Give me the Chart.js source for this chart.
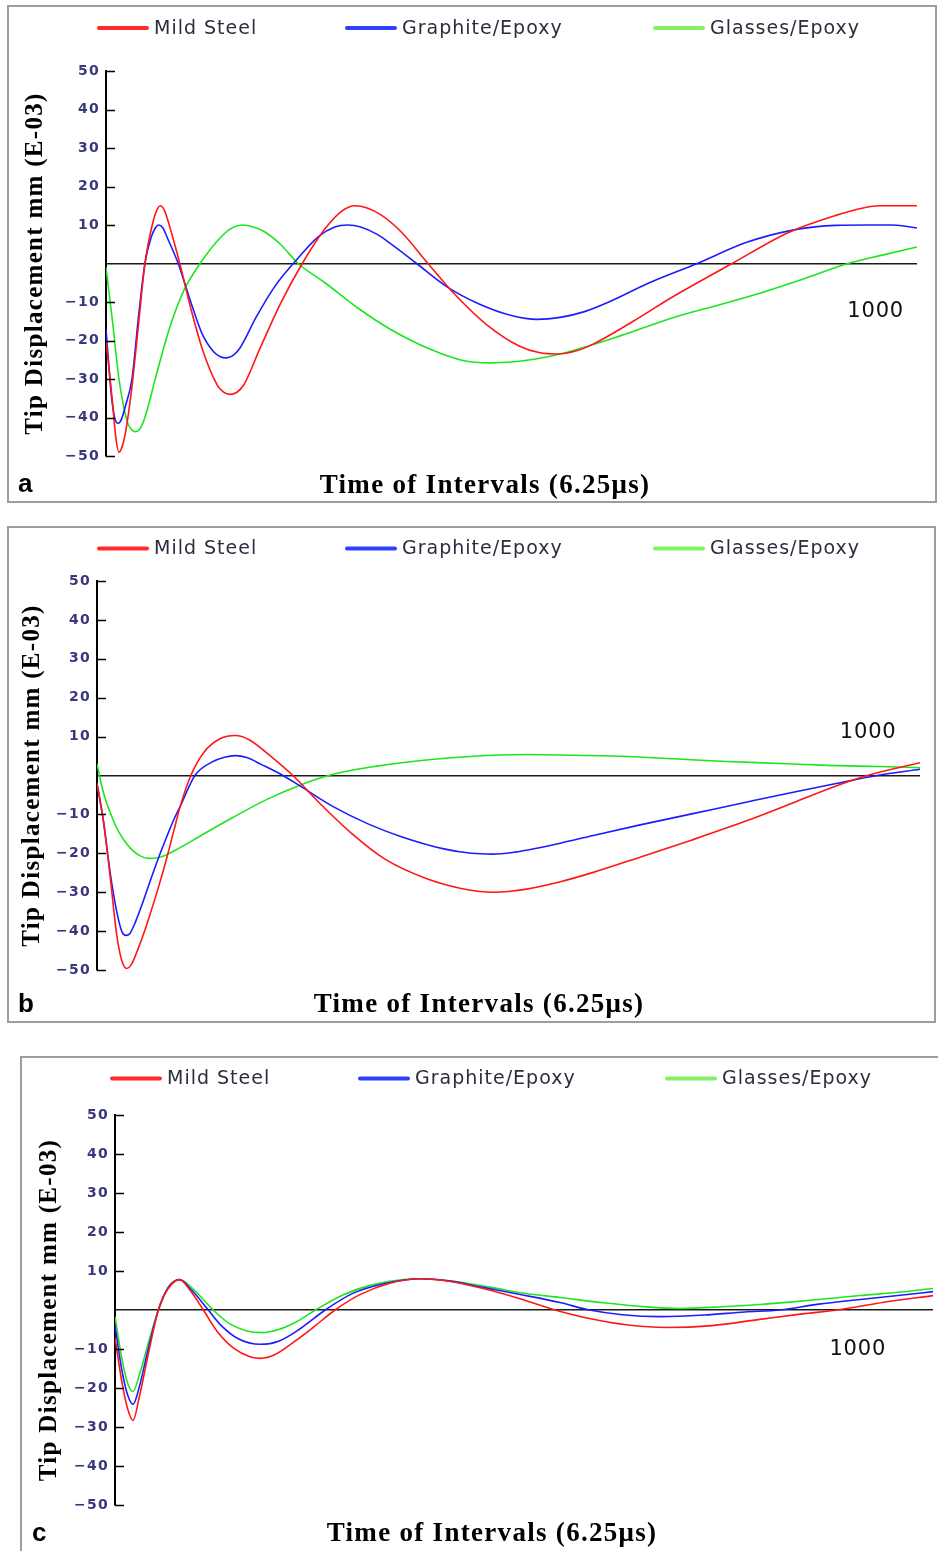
<!DOCTYPE html>
<html>
<head>
<meta charset="utf-8">
<script src="https://cdn.jsdelivr.net/npm/chart.js@4.4.1/dist/chart.umd.min.js"></script>
<style>
  html, body { margin: 0; padding: 0; background: #fff; }
  body { position: relative; width: 938px; height: 1551px; overflow: hidden; }
  .panel { position: absolute; border: 2px solid #9d9d9d; background: #fff; }
  .panel canvas { display: block; }
</style>
</head>
<body>
<div class="panel" style="left:7px;top:5px;width:926px;height:494px"><canvas id="chartA" width="926" height="494"></canvas></div>
<div class="panel" style="left:7px;top:526px;width:925px;height:493px"><canvas id="chartB" width="925" height="493"></canvas></div>
<div class="panel" style="left:20px;top:1056px;width:930px;height:500px"><canvas id="chartC" width="916" height="493"></canvas></div>
<script>
// ── Labels / ticks ───────────────────────────────────────
const seriesNames = ['Mild Steel', 'Graphite/Epoxy', 'Glasses/Epoxy'];
const lineColors  = ['#ff1616', '#1c1cff', '#1fe51f'];
const keyColors   = ['#ff2a2a', '#2f3fff', '#84f066'];
const yTickValues = [-50, -40, -30, -20, -10, 0, 10, 20, 30, 40, 50];
const xTitle = 'Time of Intervals (6.25μs)';
const yTitle = 'Tip Displacement mm (E-03)';
const endLabel = '1000';

// ── Panel a ──────────────────────────────────────────────
const aSteelT = [0, 8, 12, 16, 20, 24, 32, 40, 48, 57, 62, 67, 72, 78, 91, 105, 120, 137, 145, 153, 161, 170, 190, 215, 242, 270, 290, 307, 322, 340, 365, 397, 430, 470, 510, 535, 556, 578, 600, 650, 700, 772, 841, 900, 935, 954, 1000];
const aSteelY = [-20, -36, -45, -49, -47.5, -44, -32, -16, 0, 10, 13.5, 15, 13.8, 10, 0, -12, -23, -31.5, -33.4, -34, -33.5, -31.5, -22, -10.5, 0, 9, 13.5, 15, 14.4, 12.5, 8, 0, -8, -16, -21.5, -23.2, -23.5, -22.8, -21, -15, -8.5, 0, 8, 12.5, 14.5, 15, 15];
const aGraphT = [0, 7, 11, 15, 19, 24, 32, 40, 48, 56, 61, 65, 70, 76, 89, 103, 118, 133, 141, 148, 156, 165, 185, 208, 231, 262, 282, 298, 314, 335, 355, 383, 420, 460, 500, 531, 560, 590, 620, 670, 729, 790, 850, 900, 940, 970, 1000];
const aGraphY = [-17, -35, -40.3, -41.5, -40.5, -37, -30, -14, 0, 7, 9.3, 10, 9.3, 6.5, 0, -9, -18, -23, -24.2, -24.5, -24, -22, -14, -6, 0, 7, 9.5, 10, 9.5, 7.5, 4.5, 0, -6, -10.5, -13.5, -14.5, -14, -12.5, -10, -5, 0, 5.5, 8.8, 9.9, 10, 10, 9.2];
const aGlassT = [0, 8, 16, 26, 31, 36, 41, 48, 62, 78, 96, 116, 140, 155, 168, 182, 195, 215, 237, 270, 310, 350, 400, 440, 473, 500, 530, 560, 634, 700, 760, 806, 860, 915, 960, 1000];
const aGlassY = [-1, -15, -30, -41, -43, -43.7, -43.2, -40, -29, -17, -7, 0, 6.5, 9.2, 10, 9.5, 8.3, 5, 0, -5, -11.5, -17, -22.3, -25.2, -25.8, -25.6, -24.8, -23.5, -18.8, -14, -10.5, -7.7, -4, 0, 2.3, 4.3];

// ── Panel b ──────────────────────────────────────────────
const bSteelT = [0, 8, 16, 24, 30, 36, 42, 50, 57, 64, 75, 85, 93, 101, 114, 130, 150, 168, 185, 205, 238, 270, 310, 350, 400, 441, 465, 481, 500, 522, 563, 603, 660, 724, 790, 846, 894, 936, 1000];
const bSteelY = [-2, -12, -26, -41, -47.5, -49.6, -48.5, -44.5, -40.5, -36, -28.5, -21, -14.5, -8, 0, 6, 9.5, 10.3, 9.2, 6, 0, -7, -15, -21.5, -26.5, -29, -29.8, -30, -29.8, -29.2, -27.3, -24.9, -21, -16.5, -11.6, -7, -3, 0, 3.3];
const bGraphT = [0, 8, 16, 24, 30, 35, 40, 47, 55, 64, 75, 85, 93, 101, 119, 140, 155, 168, 182, 200, 226, 249, 287, 330, 368, 420, 455, 481, 505, 522, 563, 603, 660, 724, 790, 846, 900, 948, 1000];
const bGraphY = [-2, -12, -25, -35, -40, -41.1, -40.6, -37.5, -33, -27.5, -21, -15.6, -11.5, -8, 0, 3.5, 4.7, 5.1, 4.6, 2.8, 0, -3, -8, -12.5, -15.6, -18.8, -20, -20.2, -19.8, -19.2, -17.4, -15.4, -12.7, -9.8, -6.8, -4.3, -2, 0, 1.6];
const bGlassT = [0, 5, 10, 16, 24, 32, 42, 52, 62, 73, 85, 97, 125, 165, 206, 249, 287, 340, 400, 453, 522, 580, 644, 700, 765, 830, 887, 950, 1000];
const bGlassY = [3, -2, -6, -9.5, -13.5, -16.4, -19, -20.6, -21.3, -21.2, -20.3, -19, -15.6, -10.8, -6.2, -2.3, 0.3, 2.4, 4, 4.9, 5.4, 5.2, 4.9, 4.3, 3.6, 3.1, 2.6, 2.3, 2];

// ── Panel c ──────────────────────────────────────────────
const cSteelT = [0, 8, 15, 22, 30, 40, 53, 65, 79, 92, 108, 125, 145, 165, 178, 195, 220, 245, 269, 300, 335, 373, 410, 450, 490, 538, 580, 625, 675, 730, 788, 840, 883, 940, 1000];
const cSteelY = [-7, -18, -25, -28.3, -22, -12, 0, 5.5, 7.8, 5, 0, -5.5, -9.8, -12, -12.4, -11.5, -8, -4, 0, 4, 6.8, 8, 7.3, 5.5, 3.2, 0, -2.2, -3.8, -4.5, -4, -2.4, -1, 0, 2, 3.7];
const cGraphT = [0, 8, 15, 22, 30, 40, 53, 65, 79, 92, 114, 130, 150, 178, 200, 225, 257, 290, 330, 373, 410, 450, 500, 544, 580, 620, 666, 720, 770, 813, 860, 911, 960, 1000];
const cGraphY = [-4, -15, -21.5, -24.2, -19.5, -10.5, 0, 5.7, 7.8, 5.5, 0, -4, -7.3, -8.8, -8, -5, 0, 4.2, 6.8, 8, 7.4, 5.8, 3.8, 1.9, 0, -1.2, -1.7, -1.3, -0.5, 0, 1.5, 2.7, 3.8, 4.7];
const cGlassT = [0, 8, 15, 22, 30, 40, 53, 65, 79, 95, 120, 140, 160, 180, 200, 222, 245, 280, 320, 373, 420, 460, 500, 544, 600, 650, 690, 748, 788, 850, 911, 960, 1000];
const cGlassY = [-1.7, -12, -18.5, -20.9, -16.5, -9, 0, 5.8, 7.8, 5.5, 0, -3.5, -5.3, -5.8, -5, -3, 0, 4, 6.7, 8, 7.2, 5.8, 4.3, 3.2, 1.8, 0.8, 0.4, 0.9, 1.4, 2.5, 3.7, 4.6, 5.5];

// ── Helpers ──────────────────────────────────────────────
function fmtTick(v) {
  if (v === 0) return '';
  return v < 0 ? '\u2212' + Math.abs(v) : String(v);
}

// inward tick marks, key row, panel letter and the "1000" note
const panelDecor = {
  id: 'panelDecor',
  beforeDraw(chart) {
    chart.ctx.letterSpacing = '1.3px';
  },
  afterDatasetsDraw(chart) {
    const { ctx, chartArea, scales: { y } } = chart;
    ctx.save();
    ctx.strokeStyle = '#000';
    ctx.lineWidth = 1.6;
    ctx.beginPath();
    y.ticks.forEach(t => {
      if (t.value === 0) return;
      const py = Math.round(y.getPixelForValue(t.value)) + 0.5;
      ctx.moveTo(chartArea.left, py);
      ctx.lineTo(chartArea.left + 9, py);
    });
    ctx.stroke();
    ctx.restore();
  },
  afterDraw(chart, args, opts) {
    const { ctx, scales: { x, y } } = chart;
    ctx.save();
    ctx.textBaseline = 'middle';
    ctx.textAlign = 'left';
    ctx.font = '19px "DejaVu Sans"';
    ctx.letterSpacing = '1px';
    chart.data.datasets.forEach((ds, i) => {
      const x0 = opts.keyX[i];
      ctx.strokeStyle = ds.keyColor;
      ctx.lineWidth = 4;
      ctx.lineCap = 'round';
      ctx.beginPath();
      ctx.moveTo(x0 + 2, opts.keyY);
      ctx.lineTo(x0 + 50, opts.keyY);
      ctx.stroke();
      ctx.fillStyle = '#2d2d3d';
      ctx.fillText(ds.label, x0 + 57, opts.keyY + 1);
    });

    ctx.font = '21px "DejaVu Sans"';
    ctx.letterSpacing = '0.8px';
    ctx.textAlign = 'center';
    ctx.fillStyle = '#111';
    ctx.fillText(endLabel, x.getPixelForValue(opts.noteX), y.getPixelForValue(opts.noteY));

    ctx.font = 'bold 26px "Liberation Sans"';
    ctx.letterSpacing = '0px';
    ctx.textAlign = 'left';
    ctx.textBaseline = 'alphabetic';
    ctx.fillStyle = '#000';
    ctx.fillText(opts.letter, opts.letterX, opts.letterY);
    ctx.restore();
    ctx.letterSpacing = '0px';
  },
};

function makePanel(canvasId, series, box) {
  return new Chart(document.getElementById(canvasId), {
    type: 'line',
    data: {
      datasets: series.map((s, i) => ({
        label: seriesNames[i],
        data: s.t.map((t, k) => ({ x: t, y: s.y[k] })),
        borderColor: lineColors[i],
        keyColor: keyColors[i],
        borderWidth: 1.6,
        pointRadius: 0,
        cubicInterpolationMode: 'monotone',
        fill: false,
      })),
    },
    options: {
      responsive: false,
      animation: false,
      events: [],
      layout: { padding: { left: box.padL, right: box.padR, top: box.padT, bottom: box.padB } },
      scales: {
        x: { type: 'linear', min: 0, max: 1000, display: false },
        y: {
          min: -50,
          max: 50,
          afterBuildTicks: s => { s.ticks = yTickValues.map(v => ({ value: v })); },
          afterFit: s => { s.width = box.yWidth; },
          ticks: {
            padding: 6,
            color: '#38387c',
            font: { family: '"DejaVu Sans"', size: 14, weight: 'bold' },
            callback: fmtTick,
          },
          grid: {
            drawTicks: false,
            lineWidth: 1.6,
            color: c => (c.tick && c.tick.value === 0 ? '#1a1a1a' : 'rgba(0,0,0,0)'),
          },
          border: { display: true, color: '#000', width: 2 },
          title: {
            display: true,
            text: yTitle,
            color: '#000',
            font: { family: '"Liberation Serif", "Times New Roman", serif', size: 25, weight: 'bold', lineHeight: 1 },
            padding: { top: box.yTitlePad, bottom: 0 },
          },
        },
      },
      plugins: {
        legend: { display: false },
        tooltip: { enabled: false },
        title: {
          display: true,
          position: 'bottom',
          text: xTitle,
          color: '#000',
          font: { family: '"Liberation Serif", "Times New Roman", serif', size: 27, weight: 'bold', lineHeight: 1 },
          padding: { top: box.xTitlePad, bottom: 0 },
        },
        panelDecor: {
          keyX: box.keyX, keyY: box.keyY,
          letter: box.letter, letterX: box.letterX, letterY: box.letterY,
          noteX: box.noteX, noteY: box.noteY,
        },
      },
    },
    plugins: [panelDecor],
  });
}

makePanel('chartA',
  [{ t: aSteelT, y: aSteelY }, { t: aGraphT, y: aGraphY }, { t: aGlassT, y: aGlassY }],
  { padL: 44, padR: 18, padT: 64, padB: 1.5, yWidth: 53, yTitlePad: -29.5, xTitlePad: 16.5,
    keyX: [88, 336, 644], keyY: 21, letter: 'a', letterX: 9, letterY: 485, noteX: 949, noteY: -12.5 });

makePanel('chartB',
  [{ t: bSteelT, y: bSteelY }, { t: bGraphT, y: bGraphY }, { t: bGlassT, y: bGlassY }],
  { padL: 29, padR: 14, padT: 53, padB: 2.5, yWidth: 59, yTitlePad: -17.5, xTitlePad: 21.5,
    keyX: [88, 336, 644], keyY: 20.5, letter: 'b', letterX: 9, letterY: 484, noteX: 937, noteY: 11 });

makePanel('chartC',
  [{ t: cSteelT, y: cSteelY }, { t: cGraphT, y: cGraphY }, { t: cGlassT, y: cGlassY }],
  { padL: 29, padR: 5, padT: 57, padB: 3.5, yWidth: 64, yTitlePad: -13.5, xTitlePad: 15.5,
    keyX: [88, 336, 643], keyY: 20.5, letter: 'c', letterX: 10, letterY: 483, noteX: 908, noteY: -10.1 });
</script>
</body>
</html>
